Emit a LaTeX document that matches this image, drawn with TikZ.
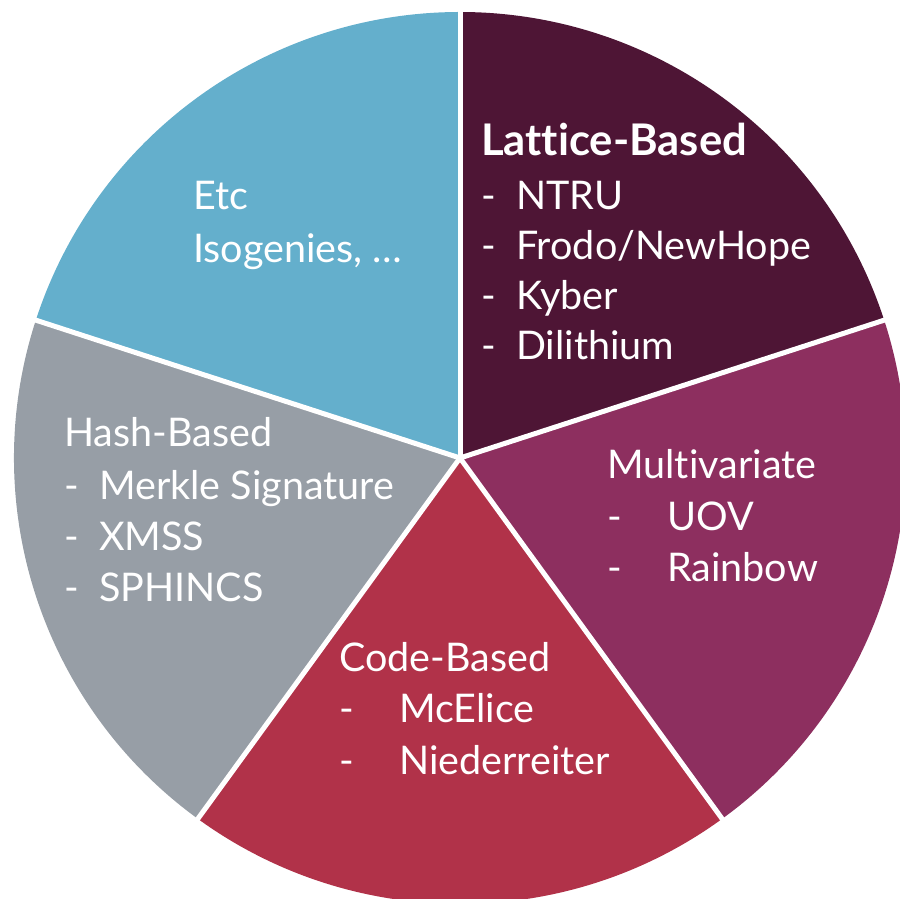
\documentclass[tikz,border=0pt]{standalone}
\usepackage{fontspec}
\setmainfont{Lato}[Ligatures={NoCommon}]
\usetikzlibrary{calc}

\definecolor{lattice}{HTML}{4E1535}
\definecolor{multivar}{HTML}{8D2F5F}
\definecolor{codebased}{HTML}{B13249}
\definecolor{hashbased}{HTML}{979EA6}
\definecolor{etcblue}{HTML}{64AFCC}

\tikzset{
  sector/.style={fill=#1},
  divider/.style={draw=white, line width=5pt},
  lbl/.style={anchor=base west, text=white, inner sep=0pt,
              font=\fontsize{39.5}{50}\selectfont},
  boldlbl/.style={lbl, font=\fontsize{43.6}{50}\selectfont\bfseries},
}
\newcommand{\itemrow}[2]{\makebox[#1][l]{-}#2}

\begin{document}
\begin{tikzpicture}[x=1pt, y=1pt]
  \useasboundingbox (0,0) rectangle (900,899);
  \clip (0,0) rectangle (900,899);

  \coordinate (O) at (460,441);
  \def\R{446}

  % pie sectors, 72 degrees each
  \fill[sector=lattice]   (O) -- ($(O)+(18:\R)$)  arc[start angle=18,  end angle=90,  radius=\R] -- cycle;
  \fill[sector=etcblue]   (O) -- ($(O)+(90:\R)$)  arc[start angle=90,  end angle=162, radius=\R] -- cycle;
  \fill[sector=hashbased] (O) -- ($(O)+(162:\R)$) arc[start angle=162, end angle=234, radius=\R] -- cycle;
  \fill[sector=codebased] (O) -- ($(O)+(234:\R)$) arc[start angle=234, end angle=306, radius=\R] -- cycle;
  \fill[sector=multivar]  (O) -- ($(O)+(306:\R)$) arc[start angle=306, end angle=378, radius=\R] -- cycle;

  % white dividers between sectors
  \foreach \a/\n in {18/d1, 90/d2, 162/d3, 234/d4, 306/d5} {
    \coordinate (\n) at ($(O)+(\a:\R+10)$);
    \draw[divider] (O) -- (\n);
  }

  % Lattice-Based
  \node[boldlbl] (lat0) at (481,743) {Lattice-Based};
  \node[lbl] (lat1) at (481,689) {\itemrow{35pt}{NTRU}};
  \node[lbl] (lat2) at (481,639) {\itemrow{35pt}{Frodo/NewHope}};
  \node[lbl] (lat3) at (481,589) {\itemrow{35pt}{Kyber}};
  \node[lbl] (lat4) at (481,539) {\itemrow{35pt}{Dilithium}};

  % Etc
  \node[lbl] (etc0) at (193,689) {Etc};
  \node[lbl] (etc1) at (193,636) {Isogenies, …};

  % Hash-Based
  \node[lbl] (hash0) at (64,452) {Hash-Based};
  \node[lbl] (hash1) at (64,399) {\itemrow{35pt}{Merkle Signature}};
  \node[lbl] (hash2) at (64,348) {\itemrow{35pt}{XMSS}};
  \node[lbl] (hash3) at (64,297) {\itemrow{35pt}{SPHINCS}};

  % Multivariate
  \node[lbl] (mv0) at (607,420) {Multivariate};
  \node[lbl] (mv1) at (607,368) {\itemrow{60pt}{UOV}};
  \node[lbl] (mv2) at (607,317) {\itemrow{60pt}{Rainbow}};

  % Code-Based
  \node[lbl] (code0) at (339,227) {Code-Based};
  \node[lbl] (code1) at (339,176) {\itemrow{60pt}{McElice}};
  \node[lbl] (code2) at (339,124) {\itemrow{60pt}{Niederreiter}};
\end{tikzpicture}
\end{document}
